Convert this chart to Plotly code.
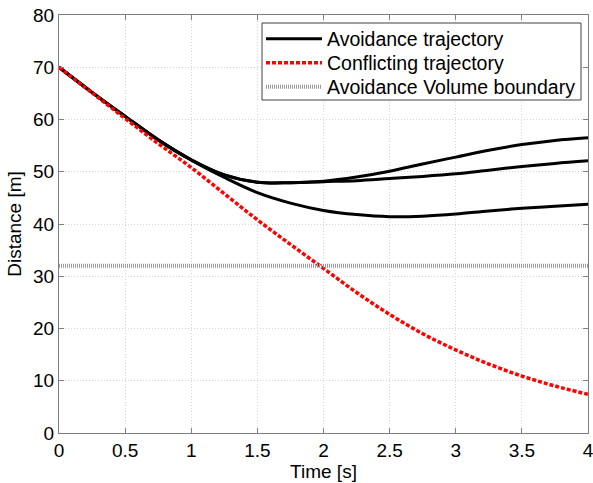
import plotly.graph_objects as go

t = [0, 0.25, 0.5, 0.75, 1.0, 1.25, 1.5, 1.75, 2.0, 2.25, 2.5, 2.75, 3.0, 3.25, 3.5, 3.75, 4.0]
avoid_upper = [70, 65.2, 60.6, 56.1, 52.3, 49.4, 48.0, 47.9, 48.2, 49.0, 50.1, 51.5, 52.8, 54.1, 55.2, 56.0, 56.5]
avoid_middle = [70, 65.2, 60.6, 56.1, 52.3, 49.4, 48.0, 47.9, 48.1, 48.3, 48.7, 49.1, 49.6, 50.3, 51.0, 51.6, 52.1]
avoid_lower = [70, 65.2, 60.6, 56.1, 52.2, 48.9, 46.0, 44.0, 42.6, 41.8, 41.4, 41.5, 41.9, 42.5, 43.0, 43.4, 43.8]
conflict = [70, 65.1, 60.2, 55.4, 50.8, 45.8, 40.8, 36.1, 31.5, 26.9, 22.7, 19.0, 15.9, 13.2, 10.9, 9.0, 7.4]
boundary_t = [0, 4]
boundary = [32, 32]

xticks = [0, 0.5, 1, 1.5, 2, 2.5, 3, 3.5, 4]
xtick_text = ["0", "0.5", "1", "1.5", "2", "2.5", "3", "3.5", "4"]
yticks = [0, 10, 20, 30, 40, 50, 60, 70, 80]

FONT = "Liberation Sans, Arial, sans-serif"
FS = 19
LFS = 19.5

fig = go.Figure()
for i, ys in enumerate([avoid_upper, avoid_middle, avoid_lower]):
    fig.add_trace(go.Scatter(
        x=t, y=ys, mode="lines", line=dict(color="black", width=3, shape="spline", smoothing=1.0),
        name="Avoidance trajectory", legendgroup="avoid", showlegend=(i == 0), legend="legend"))
fig.add_trace(go.Scatter(
    x=t, y=conflict, mode="lines", line=dict(color="#ff0000", width=3.5, dash="4px,2px", shape="spline", smoothing=1.0),
    name="Conflicting trajectory", legend="legend2"))
fig.add_trace(go.Scatter(
    x=boundary_t, y=boundary, mode="lines", line=dict(color="#9a9a9a", width=4, dash="1px,1px"),
    name="Avoidance Volume boundary", legend="legend3"))

axis_common = dict(
    showline=True, linecolor="#7f7f7f", linewidth=1, mirror="ticks",
    ticks="inside", ticklen=5, tickcolor="#7f7f7f",
    showgrid=True, gridcolor="#d4d4d4", griddash="1px,2px", gridwidth=1,
    zeroline=False, tickfont=dict(family=FONT, size=FS, color="black"),
    automargin=False, ticklabeloverflow="allow",
)
fig.update_xaxes(range=[0, 4], tickvals=xticks, ticktext=xtick_text,
                 title=dict(text="Time [s]", font=dict(family=FONT, size=FS, color="black"), standoff=0),
                 **axis_common)
fig.update_yaxes(range=[0, 80], tickvals=yticks, ticklabelstandoff=0,
                 title=dict(text="Distance [m]", font=dict(family=FONT, size=FS, color="black"), standoff=6),
                 **axis_common)

# plot area in pixels: x 59..588, y 15..433
def px_x(p):
    return (p - 59) / 529.0

def px_y(p):
    return (433 - p) / 418.0

leg_common = dict(xanchor="left", yanchor="middle", bgcolor="rgba(0,0,0,0)", borderwidth=0,
                  itemwidth=56, font=dict(family=FONT, size=LFS, color="black"))
fig.update_layout(
    legend=dict(x=px_x(261), y=px_y(39), **leg_common),
    legend2=dict(x=px_x(261), y=px_y(63), **leg_common),
    legend3=dict(x=px_x(261), y=px_y(87), **leg_common),
)
fig.add_shape(type="rect", xref="paper", yref="paper",
              x0=px_x(262), x1=px_x(581), y0=px_y(100), y1=px_y(23),
              fillcolor="white", line=dict(color="#404040", width=1), layer="above")

fig.update_layout(
    width=593, height=483,
    margin=dict(l=59, r=5, t=15, b=50),
    paper_bgcolor="white", plot_bgcolor="white",
    font=dict(family=FONT, size=FS, color="black"),
    showlegend=True,
)
fig.write_html("out.html", config={"displayModeBar": False},
               post_script="document.body.style.margin='0';")
